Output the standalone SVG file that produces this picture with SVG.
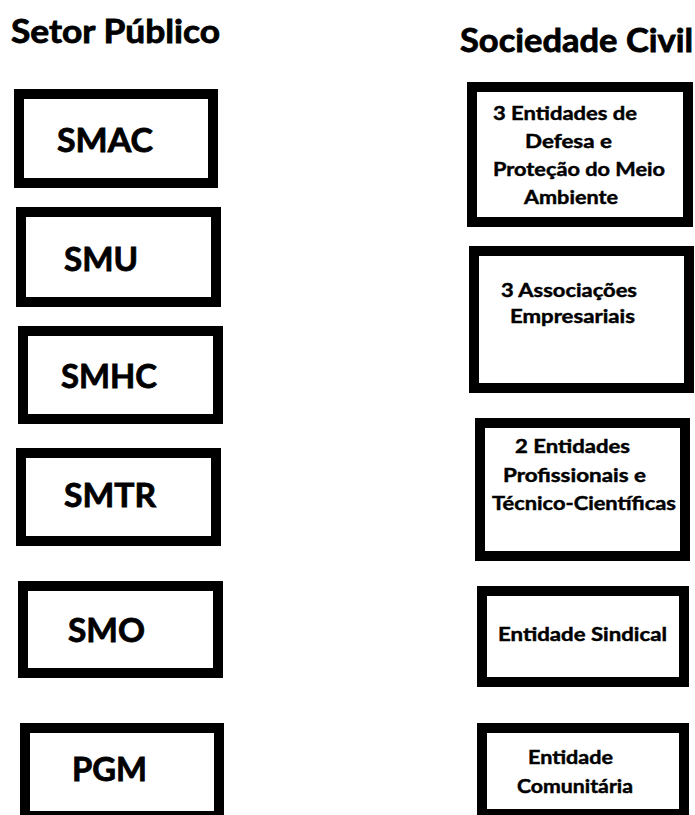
<svg xmlns="http://www.w3.org/2000/svg" width="695" height="815" viewBox="0 0 695 815">
<style>
.box{fill:#fff;stroke:#000;stroke-width:10}
.t{font-family:Lato,"Open Sans","Liberation Sans",sans-serif;font-weight:bold;fill:#000;stroke:#000}
.big{font-size:33px;stroke-width:0.8}
.sm{font-size:19px;stroke-width:0.45}
</style>
<rect x="0" y="0" width="695" height="815" fill="#fff"/>
<g id="titles">
<text class="t big" x="11" y="43" textLength="209" lengthAdjust="spacingAndGlyphs">Setor Público</text>
<text class="t big" x="460" y="52" textLength="233" lengthAdjust="spacingAndGlyphs">Sociedade Civil</text>
</g>
<g id="connectors"></g>
<g id="smac"><rect class="box" x="19" y="94" width="194" height="89"/><text class="t big" x="57" y="152" textLength="96" lengthAdjust="spacingAndGlyphs">SMAC</text></g>
<g id="smu"><rect class="box" x="21" y="212" width="195" height="90"/><text class="t big" x="64" y="271" textLength="74" lengthAdjust="spacingAndGlyphs">SMU</text></g>
<g id="smhc"><rect class="box" x="23" y="331" width="195" height="88"/><text class="t big" x="61" y="388" textLength="96" lengthAdjust="spacingAndGlyphs">SMHC</text></g>
<g id="smtr"><rect class="box" x="21" y="453" width="195" height="88"/><text class="t big" x="64" y="507" textLength="92" lengthAdjust="spacingAndGlyphs">SMTR</text></g>
<g id="smo"><rect class="box" x="23" y="586" width="195" height="87"/><text class="t big" x="68" y="642" textLength="77" lengthAdjust="spacingAndGlyphs">SMO</text></g>
<g id="pgm"><rect class="box" x="25" y="728" width="194" height="88"/><text class="t big" x="72" y="781" textLength="75" lengthAdjust="spacingAndGlyphs">PGM</text></g>
<g id="ambiente"><rect class="box" x="472" y="87" width="216" height="135"/>
<text class="t sm" x="493" y="120" textLength="144" lengthAdjust="spacingAndGlyphs">3 Entidades de</text>
<text class="t sm" x="525" y="148" textLength="87" lengthAdjust="spacingAndGlyphs">Defesa e</text>
<text class="t sm" x="493" y="176" textLength="172" lengthAdjust="spacingAndGlyphs">Proteção do Meio</text>
<text class="t sm" x="524" y="204" textLength="94" lengthAdjust="spacingAndGlyphs">Ambiente</text></g>
<g id="associacoes"><rect class="box" x="474" y="251" width="215" height="137"/>
<text class="t sm" x="501" y="297" textLength="136" lengthAdjust="spacingAndGlyphs">3 Associações</text>
<text class="t sm" x="510" y="323" textLength="125" lengthAdjust="spacingAndGlyphs">Empresariais</text></g>
<g id="profissionais"><rect class="box" x="480" y="423" width="205" height="133"/>
<text class="t sm" x="515" y="453" textLength="115" lengthAdjust="spacingAndGlyphs">2 Entidades</text>
<text class="t sm" x="503" y="482" textLength="143" lengthAdjust="spacingAndGlyphs">Profissionais e</text>
<text class="t sm" x="492" y="510" textLength="184" lengthAdjust="spacingAndGlyphs">Técnico-Científicas</text></g>
<g id="sindical"><rect class="box" x="482" y="591" width="202" height="91"/>
<text class="t sm" x="498" y="641" textLength="169" lengthAdjust="spacingAndGlyphs">Entidade Sindical</text></g>
<g id="comunitaria"><rect class="box" x="482" y="728" width="202" height="86"/>
<text class="t sm" x="528" y="764" textLength="85" lengthAdjust="spacingAndGlyphs">Entidade</text>
<text class="t sm" x="517" y="793" textLength="116" lengthAdjust="spacingAndGlyphs">Comunitária</text></g>
</svg>
